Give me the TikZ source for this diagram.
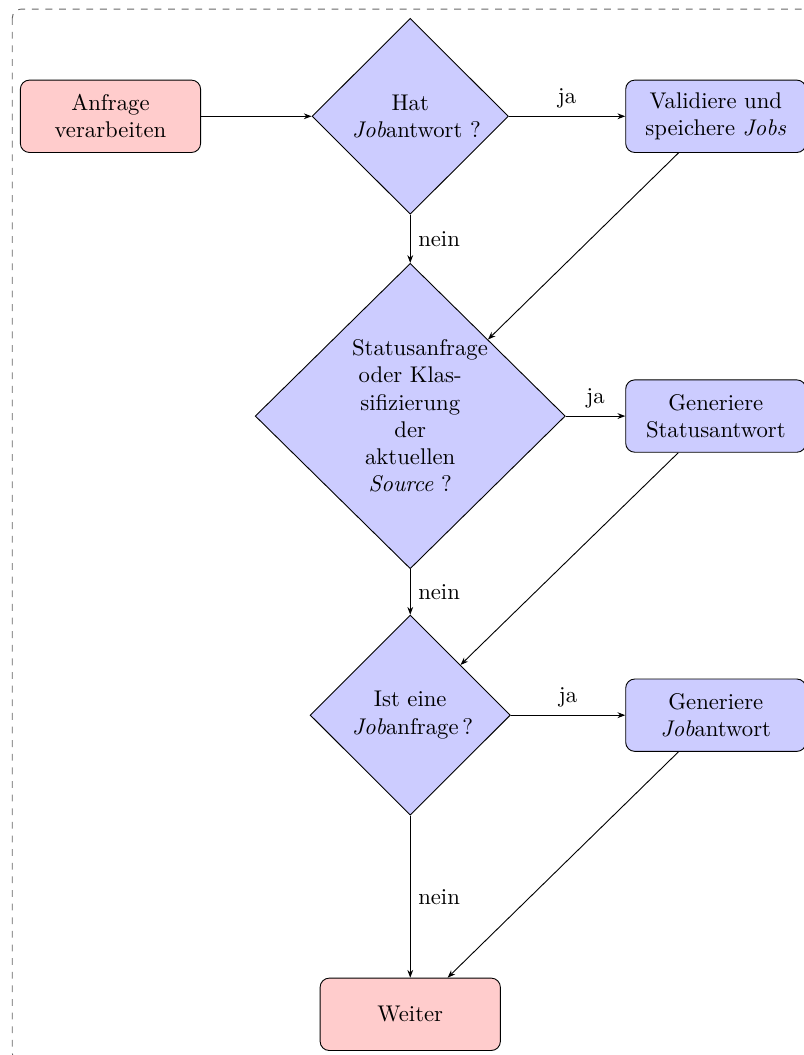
\documentclass[tikz,border=0pt]{standalone}
\usepackage{xcolor}
\usetikzlibrary{arrows.meta, shapes.geometric}

\begin{document}
\begin{tikzpicture}[>={Stealth[length=1.2mm]},
  every node/.style={font=\normalsize},
  terminal/.style={draw, rounded corners=4pt, align=center, minimum width=2.79cm, minimum height=1.12cm, fill=red!20},
  action/.style={draw, rounded corners=4pt, align=center, minimum width=2.79cm, minimum height=1.12cm, fill=blue!20},
  decision/.style={draw, diamond, aspect=1, align=center, text width=1.8cm, inner sep=4pt, fill=blue!20},
  answer/.style={font=\normalsize}]
  \useasboundingbox (0,0) rectangle (12.43,-16.33);
  \draw[dashed, black!60, rounded corners=4pt] (0.19,-0.14) rectangle (12.62,-16.44);

  \node[terminal] (anfrage) at (1.71,-1.80) {Anfrage\\verarbeiten};
  \node[decision, minimum width=3.04cm] (hat) at (6.35,-1.80) {Hat\\\emph{Job}antwort~?};
  \node[action] (validiere) at (11.08,-1.80) {Validiere und\\speichere \emph{Jobs}};
  \node[decision, minimum width=4.8cm] (status) at (6.35,-6.44) {Statusanfrage\\oder Klas-\\sifizierung\\der\\aktuellen\\\emph{Source} ?};
  \node[action] (statusantwort) at (11.08,-6.44) {Generiere\\Statusantwort};
  \node[decision, minimum width=3.1cm] (job) at (6.35,-11.07) {Ist eine\\\emph{Job}anfrage\,?};
  \node[action] (jobantwort) at (11.08,-11.07) {Generiere\\\emph{Job}antwort};
  \node[terminal] (weiter) at (6.35,-15.70) {Weiter};

  \draw[->] (anfrage) -- (hat);
  \draw[->] (hat) -- node[answer, above] {ja} (validiere);
  \draw[->] (hat) -- node[answer, right] {nein} (status);
  \draw[->] (validiere) -- (status.north east);
  \draw[->] (status) -- node[answer, above] {ja} (statusantwort);
  \draw[->] (status) -- node[answer, right] {nein} (job);
  \draw[->] (statusantwort) -- (job.north east);
  \draw[->] (job) -- node[answer, above] {ja} (jobantwort);
  \draw[->] (job) -- node[answer, right] {nein} (weiter);
  \draw[->] (jobantwort) -- (weiter);
\end{tikzpicture}
\end{document}
